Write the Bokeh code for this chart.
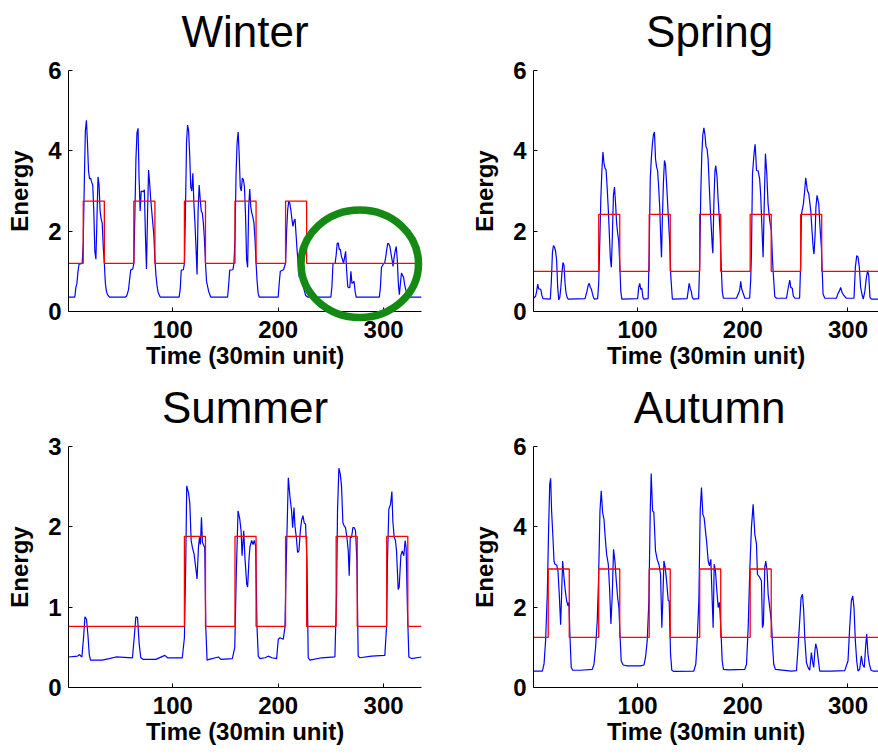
from bokeh.plotting import figure
from bokeh.layouts import column, row
from bokeh.models import FixedTicker, Range1d
from bokeh.core.properties import value
from bokeh.embed import file_html
from bokeh.resources import INLINE

FONT = "Liberation Sans"

# ---- one week of half-hourly energy use per season: (time slot, energy) ----
winter_pts = [
    (1, 0.36), (7, 0.36), (8, 0.6), (9, 0.7), (10, 1.0), (11, 1.18), (14, 1.2), (15, 1.7), (16, 3.2),
    (17, 4.5), (18, 4.76), (19, 4.2), (20, 3.5), (21, 3.3), (22, 3.32), (23, 3.22), (24, 3.15), (25, 2.5),
    (26, 1.5), (27, 1.3), (28, 2.3), (29, 3.35), (30, 3.15), (31, 2.5), (32, 2.3), (33, 2.2), (34, 1.6),
    (35, 1.2), (36, 0.7), (37, 0.5), (38, 0.42), (40, 0.36),
    (55, 0.36), (56, 0.38), (57, 0.45), (58, 0.55), (59, 0.8), (60, 1.03), (62, 1.06), (63, 1.2), (64, 2.4),
    (65, 3.8), (66, 4.45), (67, 4.56), (68, 3.3), (69, 2.5), (70, 3.0), (72, 2.98), (73, 3.03), (74, 1.9),
    (75, 1.06), (76, 2.4), (77, 3.52), (78, 3.2), (79, 2.8), (80, 2.5), (81, 2.2), (82, 1.9), (83, 1.3),
    (84, 0.9), (85, 0.65), (86, 0.48), (88, 0.36),
    (106, 0.36), (107, 0.55), (108, 1.03), (110, 1.04), (111, 1.2), (112, 2.5), (113, 4.2), (114, 4.64),
    (115, 4.5), (116, 3.9), (117, 3.1), (118, 3.0), (119, 3.44), (120, 2.7), (121, 2.2), (122, 1.6),
    (123, 0.92), (124, 2.5), (125, 3.15), (126, 2.8), (127, 2.5), (128, 2.45), (129, 2.2), (130, 1.8),
    (131, 1.2), (132, 0.75), (134, 0.5), (136, 0.36),
    (152, 0.36), (153, 0.67), (154, 1.03), (157, 1.04), (158, 1.2), (159, 1.8), (160, 3.4), (161, 4.2),
    (162, 4.47), (163, 3.9), (164, 3.1), (165, 3.0), (166, 3.32), (167, 3.28), (168, 3.1), (169, 2.4),
    (170, 1.3), (171, 1.1), (172, 2.6), (173, 3.05), (174, 2.6), (175, 2.45), (176, 2.35), (177, 2.2),
    (178, 1.8), (179, 1.2), (180, 0.75), (181, 0.45), (182, 0.36),
    (200, 0.36), (201, 0.71), (202, 1.0), (205, 1.04), (207, 1.2), (208, 2.0), (209, 2.53), (210, 2.74),
    (211, 2.7), (212, 2.53), (213, 2.3), (214, 2.12), (215, 2.25), (216, 2.3), (217, 1.9), (218, 1.5),
    (219, 1.2), (220, 0.85), (221, 0.95), (222, 0.8), (224, 0.6), (226, 0.4), (228, 0.36),
    (250, 0.36), (251, 0.63), (252, 1.19), (254, 1.2), (255, 1.4), (256, 1.7), (257, 1.7), (258, 1.54),
    (259, 1.55), (260, 1.37), (261, 1.3), (262, 1.2), (263, 1.35), (264, 1.5), (265, 1.0), (266, 0.62),
    (267, 0.59), (268, 0.6), (269, 1.0), (270, 0.7), (271, 0.72), (272, 0.75), (273, 0.5), (274, 0.36),
    (296, 0.36), (297, 0.6), (298, 1.1), (300, 1.19), (301, 1.2), (302, 1.35), (303, 1.54), (304, 1.7),
    (305, 1.68), (306, 1.62), (307, 1.45), (308, 1.3), (309, 1.12), (310, 1.35), (311, 1.5), (312, 1.62),
    (313, 1.3), (314, 0.7), (315, 0.42), (316, 0.7), (317, 0.96), (318, 0.9), (319, 0.85), (320, 0.67),
    (321, 0.55), (322, 0.45), (323, 0.36), (336, 0.36),
]

spring_pts = [
    (1, 0.33), (3, 0.38), (4, 0.5), (5, 0.68), (6, 0.56), (7, 0.56), (8, 0.54), (9, 0.4), (10, 0.32),
    (17, 0.31), (18, 0.77), (19, 1.47), (20, 1.64), (21, 1.6), (22, 1.5), (23, 1.27), (24, 0.6), (25, 0.29),
    (26, 0.35), (27, 0.6), (28, 0.95), (29, 1.22), (30, 1.15), (31, 0.7), (32, 0.45), (33, 0.35), (34, 0.31),
    (50, 0.32), (52, 0.52), (53, 0.65), (54, 0.7), (55, 0.6), (56, 0.56), (57, 0.45), (58, 0.35), (59, 0.31),
    (62, 0.32), (63, 0.7), (64, 1.7), (65, 2.8), (66, 3.5), (67, 3.97), (68, 3.7), (69, 3.57), (70, 3.53),
    (71, 3.1), (72, 2.6), (73, 2.0), (74, 1.35), (75, 1.1), (76, 1.9), (77, 2.9), (78, 3.1), (79, 2.7),
    (80, 2.2), (81, 1.95), (82, 1.75), (83, 1.2), (84, 0.5), (85, 0.31),
    (100, 0.32), (101, 0.6), (102, 0.7), (103, 0.55), (104, 0.58), (105, 0.35), (106, 0.31), (110, 0.32),
    (111, 1.5), (112, 3.3), (113, 3.8), (114, 4.15), (115, 4.4), (116, 4.47), (117, 3.8), (118, 3.6),
    (119, 3.5), (120, 3.1), (121, 2.6), (122, 1.8), (122.7, 1.35), (123.5, 2.3), (124.5, 3.2), (125.5, 3.76),
    (126.5, 3.65), (127.5, 3.2), (128.5, 2.7), (129.5, 2.2), (130.5, 1.7), (131.5, 0.9), (133, 0.31),
    (147, 0.32), (148, 0.5), (149, 0.7), (150, 0.58), (151, 0.5), (152, 0.35), (153, 0.31), (158, 0.32),
    (159, 1.2), (160, 2.9), (161, 3.9), (162, 4.4), (163, 4.57), (164, 4.4), (165, 4.1), (166, 4.05),
    (167, 3.8), (168, 3.2), (169, 2.6), (170, 2.1), (171, 1.6), (171.5, 1.45), (172.5, 2.7), (173.5, 3.5),
    (174.3, 3.63), (175.5, 3.35), (176.5, 2.8), (177.5, 2.4), (178.5, 1.93), (179.5, 1.1), (180.5, 0.5),
    (181.5, 0.33),
    (194, 0.33), (195.5, 0.43), (197, 0.52), (198, 0.75), (199, 0.56), (200, 0.48), (202, 0.33),
    (206.5, 0.33), (207.5, 0.8), (208.2, 1.43), (209.2, 3.43), (210.8, 3.97), (211.7, 4.16), (212.5, 3.8),
    (213, 3.51), (214.6, 3.5), (216, 3.3), (217, 2.9), (218, 2.2), (219.3, 1.35), (220.3, 2.6), (221.5, 3.93),
    (222.8, 3.43), (224, 2.68), (225.6, 2.26), (227.2, 2.01), (228.2, 1.3), (228.8, 1.02), (230.4, 0.37),
    (232, 0.33),
    (241.5, 0.33), (243, 0.56), (244.6, 0.78), (245.6, 0.6), (247, 0.58), (248, 0.39), (249.5, 0.33),
    (254, 0.33), (255, 1.2), (255.7, 2.41), (257.6, 2.68), (258.8, 3.0), (259.8, 3.33), (261.4, 3.01),
    (262.7, 2.93), (264.6, 2.51), (265.8, 2.01), (267, 1.55), (267.7, 1.43), (268.7, 1.9), (269.5, 2.6),
    (270.6, 2.89), (272.2, 2.68), (273.4, 2.1), (274.7, 1.6), (275.5, 1.0), (276.3, 0.43), (278, 0.33),
    (289, 0.33), (290.5, 0.45), (292, 0.52), (293, 0.6), (294.3, 0.48), (296, 0.4), (298.4, 0.33),
    (305.7, 0.33), (307, 1.1), (308.3, 1.39), (309.5, 1.36), (310.8, 1.1), (312, 0.6), (313.3, 0.43),
    (314.5, 0.31), (316, 0.5), (317.5, 0.85), (318.7, 1.02), (319.7, 0.9), (320.9, 0.35), (322.2, 0.31),
    (336, 0.31),
]

summer_pts = [
    (1, 0.38), (9.6, 0.39), (11.2, 0.41), (13.7, 0.38), (15.3, 0.62), (16.6, 0.88), (18.1, 0.85),
    (19.4, 0.66), (20.7, 0.41), (21.9, 0.34), (33, 0.34), (39.6, 0.36), (46, 0.38), (61.7, 0.37),
    (63.6, 0.66), (64.9, 0.88), (66.5, 0.87), (68.1, 0.54), (69.6, 0.37), (72, 0.35), (84, 0.35),
    (92.4, 0.4), (95, 0.37), (109, 0.37), (111, 0.62), (112.3, 1.58), (113.2, 2.51), (114.8, 2.43),
    (116.1, 2.3), (117.4, 1.83), (118.6, 1.74), (120.2, 1.66), (121.8, 1.49), (123, 1.35), (124.3, 1.74),
    (125.3, 1.87), (126.2, 1.78), (127.2, 2.12), (128.1, 1.81), (129, 1.78), (130.3, 1.74), (131.3, 0.75),
    (132.5, 0.34), (134.4, 0.35), (143.3, 0.38), (145.5, 0.35), (156.5, 0.36), (158.8, 0.5), (160.3, 1.45),
    (161.9, 2.2), (163.5, 2.1), (164.8, 1.95), (165.7, 1.64), (167.3, 1.95), (168.5, 1.6), (170.1, 1.29),
    (171, 1.25), (172.3, 1.6), (173.2, 1.75), (174.8, 1.83), (176.1, 1.78), (177.3, 1.83), (178.6, 1.76),
    (179.9, 0.75), (181.1, 0.39), (182.7, 0.36), (187.5, 0.37), (190.6, 0.39), (194, 0.37), (198.5, 0.36),
    (200.1, 0.6), (201.7, 0.62), (204.8, 0.6), (206.4, 0.75), (207.7, 1.58), (209.6, 2.61), (211.2, 2.37),
    (212.7, 2.2), (213.7, 1.99), (215, 2.24), (215.9, 2.01), (217.2, 1.87), (218.4, 1.68), (219.7, 1.7),
    (221, 1.95), (222.2, 2.08), (223.5, 2.14), (224.7, 2.05), (226, 2.03), (227.3, 1.58), (228.5, 0.37),
    (230.1, 0.34), (241.2, 0.37), (253.8, 0.38), (255.4, 1.16), (256.3, 2.2), (257.6, 2.73), (258.9, 2.66),
    (260.1, 2.51), (261.4, 2.05), (262.7, 2.01), (263.9, 1.99), (265.2, 1.87), (266.5, 1.7), (267.4, 1.39),
    (268.4, 1.87), (269.6, 1.87), (270.9, 1.99), (272.2, 1.99), (273.4, 1.95), (274.7, 1.58), (275.9, 0.39),
    (277.5, 0.37), (288.6, 0.39), (301.2, 0.4), (302.8, 0.75), (303.7, 1.58), (305, 2.22), (306.6, 2.28),
    (307.9, 2.44), (308.8, 2.07), (310.1, 1.87), (311.3, 1.83), (312.3, 1.7), (313.9, 1.22), (314.8, 1.25),
    (316.4, 1.64), (317.7, 1.7), (319.2, 1.64), (320.5, 1.83), (321.4, 1.74), (322.7, 0.95), (324, 0.38),
    (326.5, 0.36), (336, 0.38),
]

autumn_pts = [
    (1, 0.41), (9.4, 0.41), (11, 0.58), (12.5, 1.16), (14.1, 2.32), (15.4, 3.98), (16.4, 5.06), (17.3, 5.21),
    (18.2, 4.4), (19.5, 3.73), (20.5, 3.15), (21.4, 3.07), (23, 3.05), (24.3, 2.9), (25.5, 2.32), (26.8, 1.56),
    (27.7, 2.3), (28.7, 3.15), (30, 2.74), (31.2, 2.41), (32.5, 2.16), (33.8, 2.03), (34.7, 2.12), (35.7, 1.24),
    (36.9, 0.5), (38.2, 0.43), (45.8, 0.43), (56.9, 0.45), (58.5, 0.58), (60, 0.99), (61.6, 1.66), (62.9, 2.74),
    (64.2, 4.4), (65.4, 4.9), (66.7, 4.36), (68, 4.19), (69.2, 3.73), (70.5, 3.32), (72.1, 3.07), (73.3, 2.49),
    (74.6, 1.58), (75.9, 2.32), (77.1, 3.44), (78.4, 3.15), (79.7, 2.66), (81, 2.24), (82.2, 1.99), (83.2, 1.33),
    (84.4, 0.66), (86.3, 0.56), (90.1, 0.54), (102.8, 0.54), (106, 0.56), (107.5, 0.75), (109.1, 1.16),
    (110.7, 2.16), (112, 4.4), (112.9, 5.33), (114.2, 4.4), (115.4, 4.36), (117, 3.4), (118.6, 3.19),
    (120.2, 3.07), (121.8, 2.82), (123, 1.49), (124, 2.24), (125, 3.15), (126.2, 2.99), (127.5, 2.66),
    (129.1, 2.16), (130, 2.16), (131.3, 0.83), (132.5, 0.43), (134.4, 0.4), (153.4, 0.41), (155.3, 0.58),
    (156.6, 1.16), (158.2, 2.16), (159.5, 4.4), (160.7, 4.98), (162, 4.31), (163.2, 4.23), (165.5, 3.65),
    (167.1, 3.15), (168.3, 3.03), (169.6, 3.19), (170.9, 2.16), (171.8, 1.49), (172.8, 3.07), (174, 2.9),
    (175.3, 2.41), (176.6, 1.99), (177.8, 2.12), (179.1, 1.49), (180.4, 0.66), (181.6, 0.45), (186.1, 0.44),
    (201.9, 0.45), (203.5, 0.58), (205.1, 1.49), (206.6, 2.9), (208.2, 3.98), (209.8, 4.56), (211.4, 3.82),
    (213, 3.57), (213.9, 2.82), (216.1, 2.74), (217.7, 2.66), (218.7, 1.49), (219.6, 1.58), (220.9, 2.99),
    (221.8, 3.15), (223.1, 2.9), (224.1, 2.32), (225.6, 1.99), (227.2, 1.66), (228.2, 1.08), (229.4, 0.58),
    (231, 0.45), (246.2, 0.41), (251, 0.42), (252.5, 0.99), (254.1, 1.66), (255.4, 2.24), (256.7, 2.32),
    (257.9, 1.91), (258.9, 1.24), (260.5, 0.62), (262, 0.5), (263.6, 0.43), (265.2, 0.87), (266.3, 0.65),
    (267.4, 0.5), (268.4, 0.87), (269.3, 1.09), (270.6, 0.95), (271.9, 0.66), (273.1, 0.41), (284.2, 0.41),
    (296.9, 0.42), (300, 0.66), (301.6, 1.49), (303.2, 2.16), (304.5, 2.28), (305.7, 1.99), (307, 1.16),
    (308.3, 0.66), (309.5, 0.41), (311.1, 0.45), (312.7, 0.79), (313.9, 0.58), (315.5, 0.5), (316.8, 1.04),
    (317.8, 1.33), (319, 0.83), (320.3, 0.58), (321.9, 0.43), (323.8, 0.41), (336, 0.41),
]

# ---- two-level profile: (off-hours level, working-hours level) and switch slots ----
winter_levels = [1.2, 2.75]
winter_on = [15, 63, 111, 159, 207]
winter_off = [35, 83, 131, 179, 227]

spring_levels = [1.0, 2.42]
spring_on = [63, 111, 159, 207, 255]
spring_off = [83, 131, 179, 227, 275]

summer_levels = [0.76, 1.88]
summer_on = [111, 159, 207, 255, 303]
summer_off = [131, 179, 227, 275, 323]

autumn_levels = [1.25, 2.95]
autumn_on = [15, 63, 111, 159, 207]
autumn_off = [35, 83, 131, 179, 227]

x_ticks = [100, 200, 300]
y_ticks_6 = [0, 2, 4, 6]
y_ticks_3 = [0, 1, 2, 3]

T_START, T_END = 1, 336
FRAME_H = 241          # plot-area height in px
TITLE_GAP = 39.5       # px between plot-area top and title anchor


def step_profile(on, off, levels):
    lo, hi = levels
    xs, ys = [T_START], [lo]
    for a, b in zip(on, off):
        xs += [a, a, b, b]
        ys += [lo, hi, hi, lo]
    xs.append(T_END)
    ys.append(lo)
    return xs, ys


def panel(title, pts, on, off, levels, y_end, y_ticks, x_end, width,
          left, right, top, bottom):
    p = figure(width=width, height=378,
               x_range=Range1d(T_START, x_end), y_range=Range1d(0, y_end),
               output_backend="svg", toolbar_location=None,
               min_border_left=left, min_border_right=right,
               min_border_top=top, min_border_bottom=bottom,
               background_fill_color="white", border_fill_color="white")
    p.outline_line_color = None
    p.grid.visible = False

    # panel heading, centred over the full week, drawn above the plot area
    p.text(x=[(T_START + T_END) / 2], y=[y_end * (1 + TITLE_GAP / FRAME_H)],
           text=[title], text_align="center", text_baseline="alphabetic",
           text_font=value(FONT), text_font_size="44px", text_color="black",
           level="overlay")

    for ax in (p.xaxis[0], p.yaxis[0]):
        ax.axis_line_color = "black"
        ax.axis_line_width = 1
        ax.major_tick_in = 4
        ax.major_tick_out = 0
        ax.minor_tick_line_color = None
        ax.major_label_text_font = FONT
        ax.major_label_text_font_size = "24px"
        ax.major_label_text_font_style = "bold"
        ax.major_label_text_color = "black"
        ax.axis_label_text_font = FONT
        ax.axis_label_text_font_size = "24px"
        ax.axis_label_text_font_style = "bold"
        ax.axis_label_text_color = "black"

    p.xaxis.ticker = FixedTicker(ticks=x_ticks)
    p.yaxis.ticker = FixedTicker(ticks=y_ticks)
    p.xaxis.axis_label = "Time (30min unit)"
    p.yaxis.axis_label = "Energy"
    p.xaxis.major_label_standoff = 9
    p.xaxis.axis_label_standoff = 1
    p.yaxis.major_label_standoff = 7
    p.yaxis.axis_label_standoff = 12

    t = [a for a, _ in pts]
    e = [b for _, b in pts]
    p.line(t, e, line_color="#0000ff", line_width=1.2)
    sx, sy = step_profile(on, off, levels)
    p.line(sx, sy, line_color="#ff0000", line_width=1.3)
    return p


p_winter = panel("Winter", winter_pts, winter_on, winter_off, winter_levels,
                 6, y_ticks_6, T_END, 440, 68, 19, 70, 66)
p_spring = panel("Spring", spring_pts, spring_on, spring_off, spring_levels,
                 6, y_ticks_6, 329, 438, 93, 0, 70, 67)
p_summer = panel("Summer", summer_pts, summer_on, summer_off, summer_levels,
                 3, y_ticks_3, T_END, 440, 68, 19, 68, 69)
p_autumn = panel("Autumn", autumn_pts, autumn_on, autumn_off, autumn_levels,
                 6, y_ticks_6, 329, 438, 93, 0, 68, 69)

# highlight of the weekend consumption in winter
p_winter.ellipse(x=[277.4], y=[1.19], width=[111.5], height=[2.68],
                 fill_color=None, line_color="#148a14", line_width=7.5,
                 level="overlay")

layout = column(row(p_winter, p_spring), row(p_summer, p_autumn))

open("out.html", "w").write(file_html(layout, INLINE))
